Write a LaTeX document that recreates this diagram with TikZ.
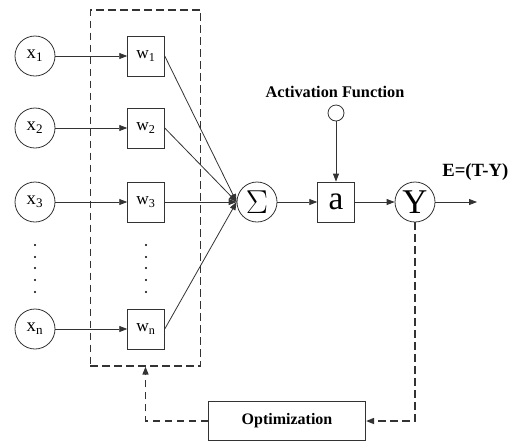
\documentclass[tikz,border=0pt]{standalone}
\usepackage{fontspec}
\setmainfont{Liberation Serif}
\usetikzlibrary{arrows.meta, positioning}
\tikzset{
  inp/.style={circle, draw=black!80, line width=0.6pt, minimum size=30pt, inner sep=0pt, font=\fontsize{14}{14}\selectfont},
  wgt/.style={rectangle, draw=black!80, line width=0.6pt, minimum width=27.5pt, minimum height=30pt, inner sep=0pt, font=\fontsize{13}{13}\selectfont},
  fb/.style={dashed, dash pattern=on 5.5pt off 3.5pt, line width=1.1pt},
}
\begin{document}
\begin{tikzpicture}[x=0.75pt, y=-0.75pt, >={Triangle[length=6pt,width=4.5pt]}, line width=0.6pt, draw=black!80]
  \useasboundingbox (0,0) rectangle (513,444);
  % inputs and weights
  \node[draw=black!80, fb, line width=0.9pt, minimum width=83pt, minimum height=267pt] (wbox) at (145.5,188) {};
  \foreach \n/\y in {1/56, 2/128, 3/202, n/329} {
    \node[inp] (x\n) at (35,\y) {x$_{\mathrm{\n}}$};
    \node[wgt] (w\n) at (146,\y) {w$_{\mathrm{\n}}$};
  }
  \foreach \y in {245,257,268,280,292} {
    \fill (35,\y) circle (0.9pt);
    \fill (146,\y) circle (0.9pt);
  }
  % summation, activation, output
  \node[inp, font=\fontsize{25}{25}\selectfont] (sig) at (257,202) {$\Sigma$};
  \node[wgt, font=\fontsize{25}{25}\selectfont] (act) at (336,202) {a};
  \node[inp, font=\fontsize{26}{26}\selectfont] (Y) at (415,202) {Y};
  \node[circle, draw=black!80, minimum size=12pt, inner sep=0pt] (fun) at (336,113) {};
  \node[font=\fontsize{12.2}{12}\selectfont\bfseries] (funlbl) at (335,92) {Activation Function};
  \coordinate (out) at (477,202);
  \node[anchor=west, inner sep=0pt, font=\fontsize{14}{14}\selectfont\bfseries] (err) at (442,172) {E=(T-Y)};
  \node[rectangle, draw=black!80, minimum width=118pt, minimum height=29pt, font=\fontsize{12}{12}\selectfont\bfseries] (opt) at (287,421) {Optimization};
  % connections
  \foreach \n in {1,2,3,n} {
    \draw[->] (x\n) -- (w\n);
    \draw[->] (w\n.east) -- (sig.west);
  }
  \draw[->] (sig) -- (act);
  \draw[->] (act) -- (Y);
  \draw[->] (Y) -- (out);
  \draw[->] (fun) -- (act);
  \draw[->, fb] (Y.south) |- (opt.east);
  \draw[->, fb] (opt.west) -| (wbox.south);
\end{tikzpicture}
\end{document}
